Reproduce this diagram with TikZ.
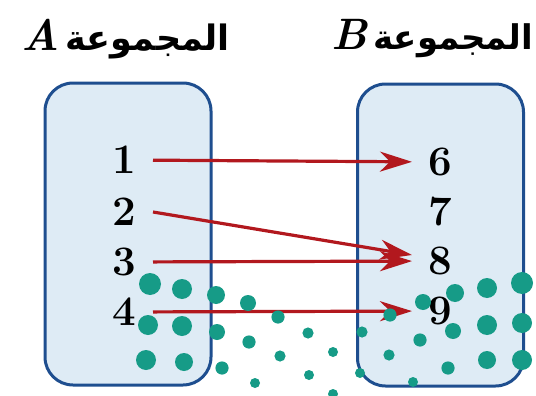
\documentclass[tikz,border=0pt]{standalone}
\usepackage{fontspec}
\newfontfamily\arabicfont[Script=Arabic]{DejaVu Sans}
\TeXXeTstate=1
\usepackage{tikz}
\usetikzlibrary{arrows.meta}
\definecolor{setfill}{RGB}{222,235,245}
\definecolor{setline}{RGB}{30,78,143}
\definecolor{maparrow}{RGB}{178,24,30}
\definecolor{dotc}{RGB}{22,155,135}
\begin{document}
\begin{tikzpicture}[x=0.5pt,y=-0.5pt,
    setbox/.style={draw=setline,fill=setfill,line width=1.5pt,rounded corners=14pt,
      minimum width=83pt,minimum height=151pt},
    elem/.style={inner sep=8pt,font=\fontsize{21}{21}\selectfont\bfseries},
    settitle/.style={anchor=base west,inner sep=0pt,font=\fontsize{22}{22}\selectfont},
    mapto/.style={draw=maparrow,line width=1.6pt,-{Stealth[length=16pt,width=10pt,inset=5pt]}}]
    \useasboundingbox (0,0) rectangle (536,396);

    \node[setbox] (setA) at (128,234) {};
    \node[setbox] (setB) at (440.5,235) {};

    \node[settitle] (titleA) at (21,50)
      {\bfseries\itshape A\hspace{3pt}{\arabicfont\upshape\bfseries\fontsize{17.5}{18}\selectfont\beginR المجموعة\endR}};
    \node[settitle] (titleB) at (331,49)
      {\bfseries\itshape B\hspace{3pt}{\arabicfont\upshape\bfseries\fontsize{17}{18}\selectfont\beginR المجموعة\endR}};

    \node[elem,anchor=east] (a1) at (153,160) {1};
    \node[elem,anchor=east] (a2) at (153,212) {2};
    \node[elem,anchor=east] (a3) at (153,262) {3};
    \node[elem,anchor=east] (a4) at (153,312) {4};

    \node[elem,anchor=west] (b6) at (412,162) {6};
    \node[elem,anchor=west] (b7) at (412,212) {7};
    \node[elem,anchor=west] (b8) at (412,261) {8};
    \node[elem,anchor=west] (b9) at (412,311) {9};

    \draw[mapto] (a1) -- (b6);
    \draw[mapto] (a2.east) -- ([yshift=3pt]b8.west);
    \draw[mapto] (a3) -- (b8);
    \draw[mapto] (a4) -- (b9);

    \foreach \x/\y/\r in {150/284/5.5,182/289/5,216/295/4.5,248/303/4,278/317/3.3,
        148/325/5,182/326/5,217/332/4,249/342/3.3,280/356/2.8,308/333/2.8,
        146/360/5,184/362/4.5,222/368/3.3,255/383/2.5,309/375/2.5,
        333/352/2.5,333/394/2.5,362/332/2.8,360/373/2.5,390/315/3.3,389/355/2.8,
        413/382/2.5,420/340/3.3,423/302/4,448/368/3.3,453/331/4,455/293/4.5,
        487/288/5,487/325/5,487/360/4.5,522/283/5.5,522/323/5,522/360/5}
      \fill[dotc] (\x,\y) circle[radius=\r*1pt];
\end{tikzpicture}
\end{document}
